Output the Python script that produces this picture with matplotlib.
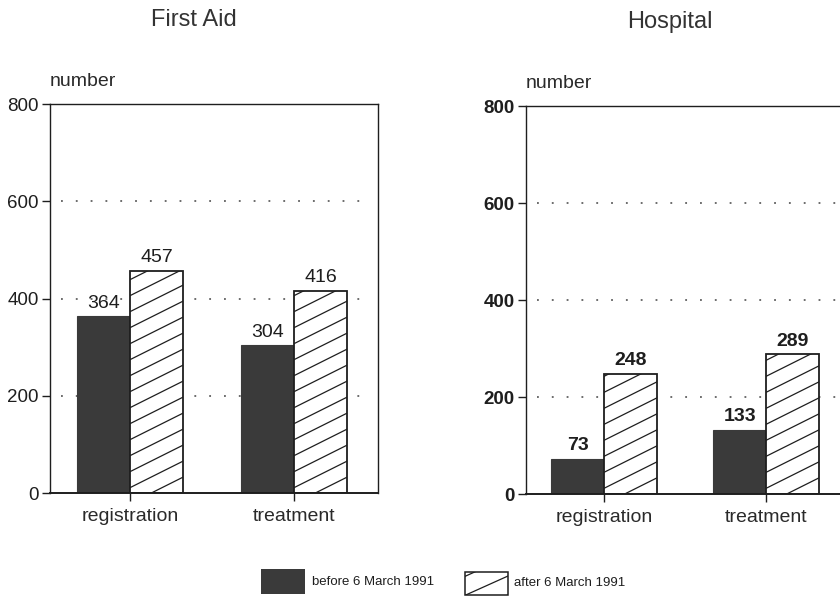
import matplotlib
matplotlib.use("Agg")
import matplotlib.pyplot as plt
from matplotlib.patches import Rectangle
from matplotlib.lines import Line2D
import numpy as np

plt.rcParams['font.family'] = ['Liberation Sans', 'DejaVu Sans']

categories = ['registration', 'treatment']
panels = ['First Aid', 'Hospital']
before = {'First Aid': [364, 304], 'Hospital': [73, 133]}
after = {'First Aid': [457, 416], 'Hospital': [248, 289]}
yticks = [0, 200, 400, 600, 800]
legend_labels = ['before 6 March 1991', 'after 6 March 1991']

DARK = '#3a3a3a'
INK = '#1e1e1e'
W = 0.325


def slant_hatch(ax, patch, step=16.0, slope=0.5, lw=0.9):
    # diagonal lines drawn in pixel space, clipped to the patch
    tr = ax.transData
    x0, y0 = patch.get_x(), patch.get_y()
    x1, y1 = x0 + patch.get_width(), y0 + patch.get_height()
    (px0, py0), (px1, py1) = tr.transform([(x0, y0), (x1, y1)])
    lo, hi = min(py0, py1), max(py0, py1)
    w = px1 - px0
    c = lo - slope * w
    while c < hi + step:
        pts = tr.inverted().transform([(px0, c), (px1, c + slope * w)])
        ln = Line2D(pts[:, 0], pts[:, 1], color=INK, lw=lw, zorder=patch.get_zorder() + 0.1)
        ax.add_line(ln)
        ln.set_clip_path(patch)
        c += step


fig = plt.figure(figsize=(8.4, 5.96), dpi=100)
positions = {
    'First Aid': ([0.0595, 0.1728, 0.3905, 0.6527], (-0.488, 1.512), 'normal'),
    'Hospital': ([0.6262, 0.1711, 0.3893, 0.6510], (-0.481, 1.537), 'bold'),
}

for name in panels:
    rect, xlim, weight = positions[name]
    ax = fig.add_axes(rect)
    ax.set_xlim(*xlim)
    ax.set_ylim(0, 800)
    x = np.arange(len(categories))

    for s in ax.spines.values():
        s.set_color(INK)
        s.set_linewidth(1.0)
    ax.spines['bottom'].set_linewidth(1.4)

    for g in yticks[1:-1]:
        ax.axhline(g, xmin=0.035, xmax=0.97, color='#444444', lw=1.1,
                   ls=(0, (1.2, 8.5)), zorder=0)

    b1 = ax.bar(x - W / 2, before[name], W, color=DARK, edgecolor=DARK, lw=0.8, zorder=2)
    b2 = ax.bar(x + W / 2, after[name], W, color='white', edgecolor=INK, lw=1.3, zorder=2)
    for p in b2:
        slant_hatch(ax, p)

    for bars, vals in ((b1, before[name]), (b2, after[name])):
        for p, v in zip(bars, vals):
            ax.annotate(str(v), (p.get_x() + p.get_width() / 2, v), xytext=(0, 6),
                        textcoords='offset points', ha='center', va='baseline',
                        fontsize=14, color=INK, fontweight=weight)

    ax.set_xticks(x)
    ax.set_xticklabels(categories, fontsize=14, color='#2a2a2a')
    ax.set_yticks(yticks)
    ax.set_yticklabels([str(t) for t in yticks], fontsize=13.5, color=INK, fontweight=weight)
    ax.tick_params(axis='both', direction='out', length=6, width=1.0, color=INK)
    ax.tick_params(axis='y', pad=2)
    ax.tick_params(axis='x', pad=5)

    ax.text(0.0, 1.035, 'number', transform=ax.transAxes, ha='left', va='bottom',
            fontsize=14, color='#2a2a2a')
    ax.text(0.44, 1.2, name, transform=ax.transAxes, ha='center', va='baseline',
            fontsize=17, color='#333333')

# legend strip, laid out in pixel units
lg = fig.add_axes([0, 0, 1, 48 / 596])
lg.set_xlim(0, 840)
lg.set_ylim(596, 548)
lg.axis('off')
dark_box = Rectangle((261, 569), 44, 25, facecolor=DARK, edgecolor='none')
hatch_box = Rectangle((465, 572), 43, 23, facecolor='white', edgecolor=INK, lw=1.1)
lg.add_patch(dark_box)
lg.add_patch(hatch_box)
slant_hatch(lg, hatch_box, step=19, slope=0.45, lw=0.9)
lg.text(312, 582, legend_labels[0], ha='left', va='center', fontsize=9.5, color=INK)
lg.text(514, 583, legend_labels[1], ha='left', va='center', fontsize=9.5, color=INK)

fig.savefig('out.png', dpi=100)
